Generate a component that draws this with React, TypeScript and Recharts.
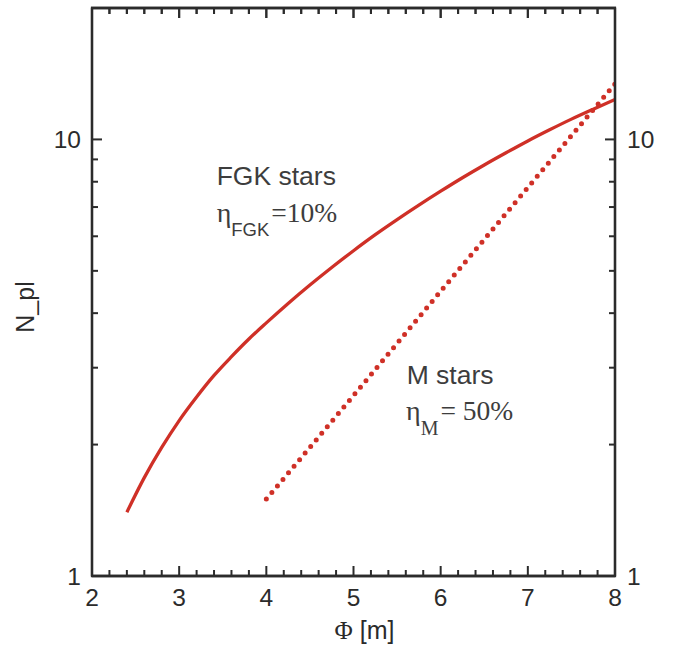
import { LineChart, Line, XAxis, YAxis, ReferenceDot, ReferenceArea, Label } from "recharts";

// FGK stars, eta = 10%
const fgkPhi = [2.4, 2.6, 2.8, 3.0, 3.2, 3.4, 3.6, 3.8, 4.0, 4.25, 4.5, 4.75, 5.0, 5.25, 5.5, 5.75, 6.0, 6.25, 6.5, 6.75, 7.0, 7.25, 7.5, 7.75, 8.0];
const fgkN = [1.4, 1.68, 1.97, 2.27, 2.57, 2.88, 3.18, 3.49, 3.8, 4.21, 4.64, 5.09, 5.56, 6.05, 6.55, 7.07, 7.61, 8.17, 8.74, 9.32, 9.92, 10.52, 11.13, 11.73, 12.34];

// M stars, eta = 50%
const mPhi = [4.0, 4.5, 5.0, 5.5, 6.0, 6.5, 7.0, 7.5, 8.0];
const mN = [1.5, 1.97, 2.59, 3.41, 4.49, 5.9, 7.76, 10.2, 13.4];

const xDomain: [number, number] = [2, 8];
const yDomain: [number, number] = [1, 20];
const xMajorLabels = [2, 3, 4, 5, 6, 7, 8];
const yTicks = [1, 2, 3, 4, 5, 6, 7, 8, 9, 10, 20];
const yMajorLabels = [1, 10];

const xTicks: number[] = [];
for (let i = 0; i <= 30; i++) xTicks.push(+(2 + i * 0.2).toFixed(1));

const fgkData = fgkPhi.map((phi, i) => ({ phi, n: fgkN[i] }));
const mData = mPhi.map((phi, i) => ({ phi, n: mN[i] }));

const W = 684;
const H = 648;
const TOP = 8;
const X_AXIS_H = 72;
const LEFT_W = 92;
const RIGHT_W = 69;
const PLOT_H = H - TOP - X_AXIS_H;
const PLOT_W = W - LEFT_W - RIGHT_W;

const RED = "#cf3027";
const INK = "#2b2b2b";
const TEXT = "#3d3d3d";
const SANS = "'Liberation Sans', Arial, sans-serif";
const SERIF = "'Liberation Serif', 'Times New Roman', serif";

const isMajorX = (v: number) => xMajorLabels.some((m) => Math.abs(m - v) < 1e-6);
const tickLen = (v: number) => (isMajorX(v) ? 10 : 6);

// bottom axis tick; also mirrors the inward tick onto the top frame edge
function BottomTick(props: any) {
  const { x, y, payload } = props;
  const len = tickLen(payload.value);
  const top = y - PLOT_H;
  return (
    <g>
      <line x1={x} x2={x} y1={y} y2={y - len} stroke={INK} strokeWidth={2} />
      <line x1={x} x2={x} y1={top} y2={top + len} stroke={INK} strokeWidth={2} />
      {isMajorX(payload.value) && (
        <text x={x} y={y + 30} textAnchor="middle" fontSize={24.5} fontFamily={SANS} fill={INK}>
          {payload.value}
        </text>
      )}
    </g>
  );
}

function LeftTick(props: any) {
  const { x, y, payload } = props;
  const major = yMajorLabels.includes(payload.value);
  return (
    <g>
      <line x1={x} x2={x + (major ? 10 : 6)} y1={y} y2={y} stroke={INK} strokeWidth={2} />
      {major && (
        <text x={x - 11} y={y + 8.5} textAnchor="end" fontSize={24.5} fontFamily={SANS} fill={INK}>
          {payload.value}
        </text>
      )}
    </g>
  );
}

function RightTick(props: any) {
  const { x, y, payload } = props;
  const major = yMajorLabels.includes(payload.value);
  return (
    <g>
      <line x1={x} x2={x - (major ? 10 : 6)} y1={y} y2={y} stroke={INK} strokeWidth={2} />
      {major && (
        <text x={x + 12} y={y + 8.5} textAnchor="start" fontSize={24.5} fontFamily={SANS} fill={INK}>
          {payload.value}
        </text>
      )}
    </g>
  );
}

// top edge of the frame with its inward ticks, laid over the chart
function TopEdge() {
  const px = (v: number) => LEFT_W + ((v - xDomain[0]) / (xDomain[1] - xDomain[0])) * PLOT_W;
  return (
    <svg
      width={W}
      height={24}
      style={{ position: "absolute", left: 0, top: 0, pointerEvents: "none", zIndex: 2 }}
    >
      <line x1={LEFT_W - 1} x2={LEFT_W + PLOT_W + 1} y1={TOP} y2={TOP} stroke={INK} strokeWidth={2.3} />
      {xTicks.map((v) => (
        <line key={v} x1={px(v)} x2={px(v)} y1={TOP} y2={TOP + tickLen(v)} stroke={INK} strokeWidth={2} />
      ))}
    </svg>
  );
}

function FgkNote({ cx, cy }: any) {
  return (
    <g fill={TEXT}>
      <text x={cx} y={cy} fontSize={26.5} fontFamily={SANS}>
        FGK stars
      </text>
      <text x={cx} y={cy + 36.7}>
        <tspan fontFamily={SERIF} fontSize={28}>η</tspan>
        <tspan fontFamily={SANS} fontSize={18.5} dy={14}>FGK</tspan>
        <tspan fontFamily={SERIF} fontSize={27.5} dy={-14} dx={2}>=10%</tspan>
      </text>
    </g>
  );
}

function MNote({ cx, cy }: any) {
  return (
    <g fill={TEXT}>
      <text x={cx} y={cy} fontSize={26.5} fontFamily={SANS}>
        M stars
      </text>
      <text x={cx - 0.7} y={cy + 36}>
        <tspan fontFamily={SERIF} fontSize={28}>η</tspan>
        <tspan fontFamily={SERIF} fontSize={20} dy={15}>M</tspan>
        <tspan fontFamily={SERIF} fontSize={27.5} dy={-15} dx={2}>= 50%</tspan>
      </text>
    </g>
  );
}

export default function App() {
  return (
    <div style={{ position: "absolute", left: 0, top: 0, width: W, height: H, background: "#fff" }}>
      <LineChart width={W} height={H} margin={{ top: TOP, right: 0, bottom: 0, left: 0 }}>
        <XAxis
          dataKey="phi"
          type="number"
          domain={xDomain}
          allowDataOverflow
          ticks={xTicks}
          interval={0}
          height={X_AXIS_H}
          tickSize={0}
          tickMargin={0}
          tickLine={false}
          axisLine={{ stroke: INK, strokeWidth: 2.3 }}
          tick={(p: any) => <BottomTick {...p} />}
        >
          <Label
            content={({ viewBox }: any) => (
              <text
                x={viewBox.x + viewBox.width / 2 + 11}
                y={viewBox.y + 63}
                textAnchor="middle"
                fontSize={25}
                fontFamily={SANS}
                fill={INK}
              >
                <tspan fontFamily={SERIF}>Φ</tspan> [m]
              </text>
            )}
          />
        </XAxis>
        <YAxis
          type="number"
          scale="log"
          domain={yDomain}
          allowDataOverflow
          ticks={yTicks}
          interval={0}
          width={LEFT_W}
          tickSize={0}
          tickMargin={0}
          tickLine={false}
          axisLine={{ stroke: INK, strokeWidth: 2.3 }}
          tick={(p: any) => <LeftTick {...p} />}
        >
          <Label
            content={({ viewBox }: any) => {
              const tx = viewBox.x + 34;
              const ty = viewBox.y + viewBox.height / 2 + 15;
              return (
                <text
                  x={tx}
                  y={ty}
                  transform={`rotate(-90, ${tx}, ${ty})`}
                  textAnchor="middle"
                  fontSize={25}
                  fontFamily={SANS}
                  fill={INK}
                >
                  N_pl
                </text>
              );
            }}
          />
        </YAxis>
        <YAxis
          yAxisId="right"
          orientation="right"
          type="number"
          scale="log"
          domain={yDomain}
          allowDataOverflow
          ticks={yTicks}
          interval={0}
          width={RIGHT_W}
          tickSize={0}
          tickMargin={0}
          tickLine={false}
          axisLine={{ stroke: INK, strokeWidth: 2.3 }}
          tick={(p: any) => <RightTick {...p} />}
        />

        {/* plot frame */}
        <ReferenceArea
          x1={xDomain[0]}
          x2={xDomain[1]}
          y1={yDomain[0]}
          y2={yDomain[1]}
          fill="none"
          stroke={INK}
          strokeWidth={2.3}
        />

        <Line
          data={fgkData}
          dataKey="n"
          type="monotone"
          stroke={RED}
          strokeWidth={3.3}
          dot={false}
          activeDot={false}
          isAnimationActive={false}
        />
        <Line
          data={mData}
          dataKey="n"
          type="linear"
          stroke={RED}
          strokeWidth={5}
          strokeLinecap="round"
          strokeDasharray="0 8.6"
          dot={false}
          activeDot={false}
          isAnimationActive={false}
        />

        <ReferenceDot x={3.43} y={7.85} r={0} ifOverflow="visible" shape={(p: any) => <FgkNote {...p} />} />
        <ReferenceDot x={5.61} y={2.76} r={0} ifOverflow="visible" shape={(p: any) => <MNote {...p} />} />
      </LineChart>
      <TopEdge />
    </div>
  );
}
